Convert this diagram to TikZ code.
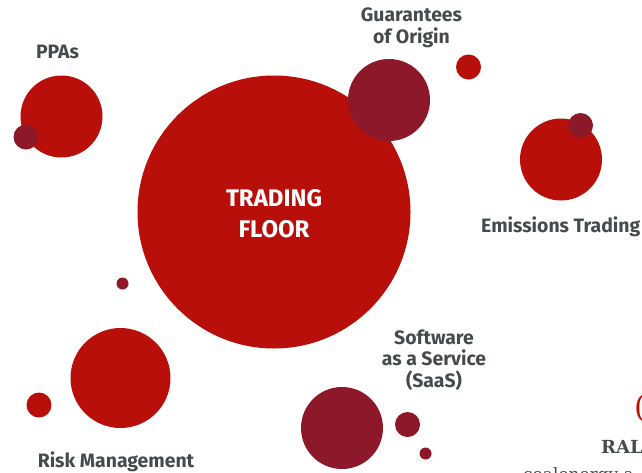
\documentclass[tikz,border=0pt]{standalone}
\usepackage{fontspec}
\setmainfont{Fira Sans}
\newfontfamily\slab{DejaVu Serif}
\definecolor{brightred}{HTML}{B90F0B}
\definecolor{darkred}{HTML}{8C1829}
\definecolor{labelgrey}{HTML}{454A4D}
\tikzset{
  x=1pt,y=-1pt,
  bubble/.style={circle,inner sep=0pt,outer sep=0pt,fill=brightred,minimum size=#1},
  dbubble/.style={circle,inner sep=0pt,outer sep=0pt,fill=darkred,minimum size=#1},
  lbl/.style={text=labelgrey,align=center,font=\fontsize{19.4}{21.5}\selectfont\bfseries,inner sep=0pt}
}
\begin{document}
\begin{tikzpicture}
\useasboundingbox (0,0) rectangle (642,472);
\node[bubble=273pt] (floor) at (274,212) {};
\node[text=white,align=center,inner sep=0pt,font=\fontsize{24}{31}\selectfont\bfseries] (floorlabel) at (274,214) {TRADING\\FLOOR};
\node[bubble=82pt] (ppa) at (61.5,116.5) {};
\node[dbubble=25pt] (ppad) at (26,137) {};
\node[lbl] (ppal) at (57.5,52) {PPAs};
\node[dbubble=82pt] (go) at (389,100) {};
\node[bubble=25pt] (gos) at (468.5,67) {};
\node[lbl] (gol) at (411.5,28) {Guarantees\\of Origin};
\node[bubble=82pt] (em) at (561,159.5) {};
\node[dbubble=25pt] (emd) at (580.5,125.5) {};
\node[lbl,anchor=east] (eml) at (640.5,227) {Emissions Trading};
\node[dbubble=12pt] (tiny) at (122.5,283.5) {};
\node[bubble=100pt] (risk) at (120.5,378) {};
\node[bubble=25pt] (risks) at (39,405) {};
\node[lbl] (riskl) at (116,462) {Risk Management};
\node[dbubble=82pt] (saas) at (342,428) {};
\node[dbubble=25pt] (saasm) at (407.5,424.5) {};
\node[dbubble=12pt] (saast) at (425.5,453.5) {};
\node[lbl] (saasl) at (434,360) {Software\\as a Service\\(SaaS)};
\node[text=brightred,anchor=base west,inner sep=0pt,font=\fontsize{30}{30}\selectfont\slab] (par) at (634,417) {(};
\node[text=labelgrey,anchor=base west,inner sep=0pt,font=\fontsize{18}{18}\selectfont\slab\bfseries] (ral) at (601,453) {RAL};
\node[text=labelgrey,anchor=base west,inner sep=0pt,font=\fontsize{17}{17}\selectfont\slab] (coal) at (523,480) {coalenergy a};
\end{tikzpicture}
\end{document}
